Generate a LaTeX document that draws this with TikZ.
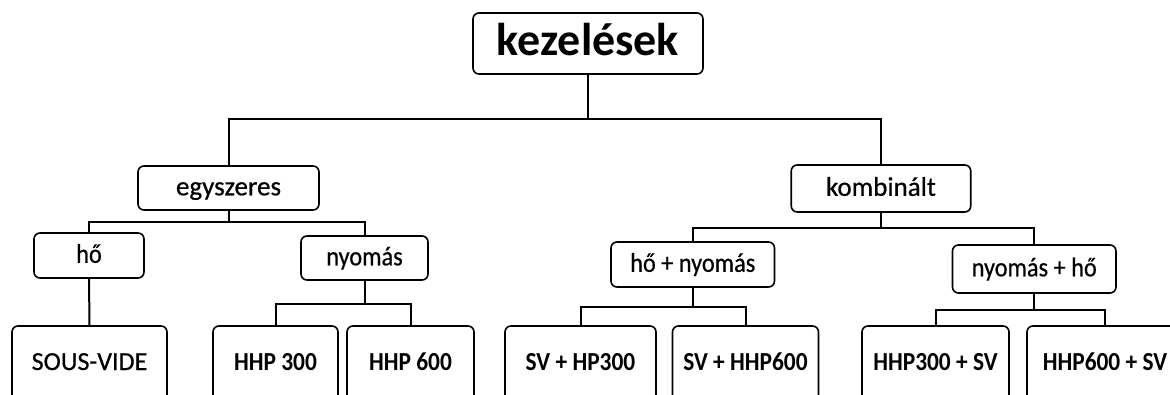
\documentclass[tikz,border=0pt]{standalone}
\usepackage{fontspec}
\setmainfont{Carlito}
\newfontfamily\midfont[FakeBold=0.6]{Carlito}
\newfontfamily\midnarrow[FakeBold=0.6,FakeStretch=0.9]{Carlito}
\newfontfamily\leaffont[FakeStretch=0.9]{Carlito}
\begin{document}
\begin{tikzpicture}[x=1pt,y=-1pt,
  box/.style={draw, rounded corners=6pt, line width=1.6pt, inner sep=0pt, align=center},
  rootbox/.style={box, font=\fontsize{46}{50}\selectfont\bfseries, text height=34.5pt, text depth=11.5pt},
  midbox/.style={box, font=\midfont\fontsize{27}{30}\selectfont, text height=20.8pt, text depth=6.2pt},
  midsmall/.style={midbox, font=\midnarrow\fontsize{27}{30}\selectfont},
  leafbox/.style={box, font=\leaffont\fontsize{26}{30}\selectfont\bfseries, text height=16pt, text depth=12pt, minimum height=84pt},
  leafreg/.style={leafbox, font=\midfont\fontsize{26}{30}\selectfont},
  conn/.style={line width=2pt}]
\useasboundingbox (0,0) rectangle (1170,394);
\clip (0,0) rectangle (1170,394);

\node[rootbox, minimum width=230pt, minimum height=61pt] (root) at (588,43.5) {kezelések};

\node[midbox, minimum width=181pt, minimum height=44pt] (egy) at (228.5,188) {egyszeres};
\node[midbox, minimum width=179.5pt, minimum height=47pt] (komb) at (881,188.5) {kombinált};

\node[midsmall, minimum width=110pt, minimum height=45pt] (ho) at (89,255.5) {hő};
\node[midsmall, minimum width=127pt, minimum height=44pt] (nyo) at (364.5,258) {nyomás};
\node[midsmall, minimum width=163.5pt, minimum height=45pt] (hn) at (692.75,264.5) {hő + nyomás};
\node[midsmall, minimum width=163.5pt, minimum height=48pt] (nh) at (1034.25,269) {nyomás + hő};

\node[leafreg, minimum width=155pt] (sv) at (89.5,368) {SOUS-VIDE};
\node[leafbox, minimum width=125pt] (h300) at (275.5,368) {HHP 300};
\node[leafbox, minimum width=127pt] (h600) at (410.5,368) {HHP 600};
\node[leafbox, minimum width=151pt] (svhp) at (580.5,368) {SV + HP300};
\node[leafbox, minimum width=146pt] (svhhp) at (745.5,368) {SV + HHP600};
\node[leafbox, minimum width=147pt] (hhpsv3) at (935.5,368) {HHP300 + SV};
\node[leafbox, minimum width=156pt] (hhpsv6) at (1105,368) {HHP600 + SV};

\coordinate (j0) at (588,119);
\coordinate (j1) at (228.5,222);
\coordinate (j2) at (364.5,304);
\coordinate (j3) at (881,228);
\coordinate (j4) at (692.75,307);
\coordinate (j5) at (1034.25,310);

\draw[conn] (root.south) -- (j0);
\draw[conn] (egy.north) |- (j0) -| (komb.north);
\draw[conn] (egy.south) -- (j1);
\draw[conn] (ho.north) |- (j1) -| (nyo.north);
\draw[conn] (ho.south) -- (sv.north);
\draw[conn] (nyo.south) -- (j2);
\draw[conn] (h300.north) |- (j2) -| (h600.north);
\draw[conn] (komb.south) -- (j3);
\draw[conn] (hn.north) |- (j3) -| (nh.north);
\draw[conn] (hn.south) -- (j4);
\draw[conn] (svhp.north) |- (j4) -| (svhhp.north);
\draw[conn] (nh.south) -- (j5);
\draw[conn] (hhpsv3.north) |- (j5) -| (hhpsv6.north);
\end{tikzpicture}
\end{document}
